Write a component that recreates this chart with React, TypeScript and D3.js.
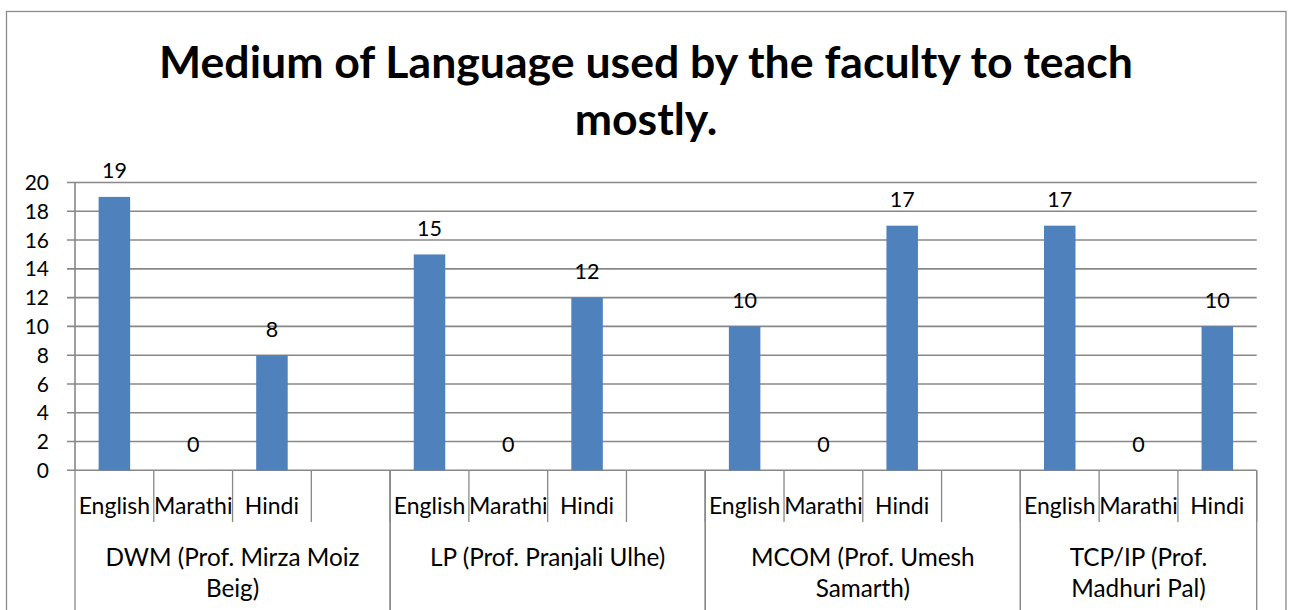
import React from "react";
import * as d3 from "d3";

const titleLines = ["Medium of Language used by the faculty to teach", "mostly."];
const groups = [
  { name: ["DWM (Prof. Mirza Moiz", "Beig)"], langs: ["English", "Marathi", "Hindi", ""] },
  { name: ["LP (Prof. Pranjali Ulhe)"], langs: ["English", "Marathi", "Hindi", ""] },
  { name: ["MCOM (Prof. Umesh", "Samarth)"], langs: ["English", "Marathi", "Hindi", ""] },
  { name: ["TCP/IP (Prof.", "Madhuri Pal)"], langs: ["English", "Marathi", "Hindi"] },
];
const dwmValues = [19, 0, 8, null];
const lpValues = [15, 0, 12, null];
const mcomValues = [10, 0, 17, null];
const tcpValues = [17, 0, 10];
const yTicks = [0, 2, 4, 6, 8, 10, 12, 14, 16, 18, 20];

const allValues: (number | null)[][] = [dwmValues, lpValues, mcomValues, tcpValues];

export default function App() {
  const W = 1292, H = 610;
  const left = 75, right = 1256.7, top = 182.5, bottom = 470.3;
  const slots: { g: number; lang: string; v: number | null; key: string }[] = [];
  groups.forEach((g, gi) => g.langs.forEach((l, li) => slots.push({ g: gi, lang: l, v: allValues[gi][li], key: `${gi}-${li}` })));
  const x = d3.scaleBand<string>().domain(slots.map((s) => s.key)).range([left, right]).padding(0);
  const y = d3.scaleLinear().domain([0, 20]).range([bottom, top]);
  const bw = x.bandwidth();
  const barW = bw * 0.4;
  const font = "Lato, 'Open Sans', sans-serif";
  const grid = "#888888";

  const groupExt = groups.map((g, gi) => {
    const ks = slots.filter((s) => s.g === gi);
    const x0 = x(ks[0].key)!;
    const x1 = x(ks[ks.length - 1].key)! + bw;
    return { x0, x1 };
  });

  return (
    <svg width={W} height={H} style={{ position: "absolute", left: 0, top: 0, background: "#fff" }} fontFamily={font}>
      <rect x={6.5} y={11.5} width={1279.5} height={620} fill="#fff" stroke="#8a8a8a" strokeWidth={1.3} />
      {titleLines.map((t, i) => (
        <text key={i} x={646} y={77.7 + i * 57.5} textAnchor="middle" fontWeight="bold" fontSize={44.6} fill="#000">
          {t}
        </text>
      ))}
      {yTicks.map((t) => (
        <g key={t}>
          <line x1={67} x2={right} y1={y(t)} y2={y(t)} stroke={grid} strokeWidth={1.6} />
          <text x={49} y={y(t)} dy="0.36em" textAnchor="end" fontSize={21} fill="#000">
            {t}
          </text>
        </g>
      ))}
      <line x1={left} x2={left} y1={top} y2={bottom} stroke={grid} strokeWidth={1.6} />
      {slots.map((s) =>
        s.v === null ? null : (
          <g key={s.key}>
            <rect x={x(s.key)! + (bw - barW) / 2} y={y(s.v)} width={barW} height={y(0) - y(s.v)} fill="#4F81BD" />
            <text x={x(s.key)! + bw / 2} y={y(s.v) - 18.5} textAnchor="middle" fontSize={21.5} fill="#000">
              {s.v}
            </text>
          </g>
        )
      )}
      {slots.map((s) => (
        <g key={"t" + s.key}>
          <line x1={x(s.key)! + bw} x2={x(s.key)! + bw} y1={bottom} y2={522} stroke={grid} strokeWidth={1.3} />
          <text x={x(s.key)! + bw / 2} y={514.3} textAnchor="middle" fontSize={23} fill="#000">
            {s.lang}
          </text>
        </g>
      ))}
      {groupExt.map((e, gi) => (
        <g key={"g" + gi}>
          <line x1={e.x0} x2={e.x0} y1={bottom} y2={H} stroke={grid} strokeWidth={1.3} />
          <line x1={e.x1} x2={e.x1} y1={bottom} y2={H} stroke={grid} strokeWidth={1.3} />
          {groups[gi].name.map((n, li) => (
            <text key={li} x={(e.x0 + e.x1) / 2} y={565.7 + li * 31} textAnchor="middle" fontSize={24.3} fill="#000">
              {n}
            </text>
          ))}
        </g>
      ))}
    </svg>
  );
}
